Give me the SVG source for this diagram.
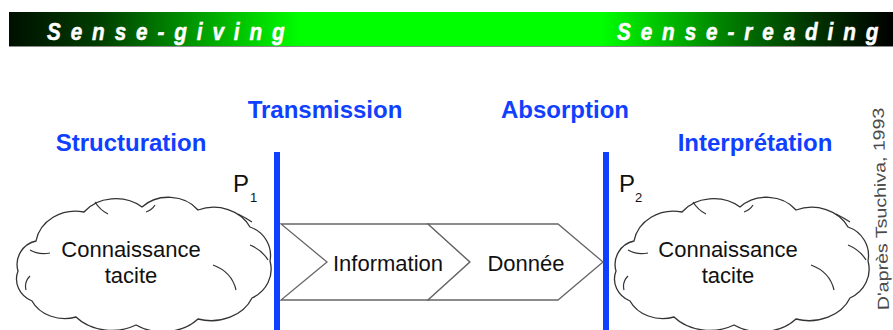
<svg xmlns="http://www.w3.org/2000/svg" width="893" height="330" viewBox="0 0 893 330">
<defs>
<linearGradient id="bar" gradientUnits="userSpaceOnUse" x1="9" y1="0" x2="893" y2="0">
<stop offset="0" stop-color="#001000"/>
<stop offset="0.1" stop-color="#003c00"/>
<stop offset="0.2" stop-color="#009000"/>
<stop offset="0.33" stop-color="#00ff00"/>
<stop offset="0.67" stop-color="#00ff00"/>
<stop offset="0.8" stop-color="#008800"/>
<stop offset="0.9" stop-color="#003a00"/>
<stop offset="1" stop-color="#000000"/>
</linearGradient>
<path id="cloud" d="M 24 40 A 40 36 0 0 1 72 11 A 38 30 0 0 1 130 6 A 36 30 0 0 1 186 9 A 40 34 0 0 1 238 26 A 30 30 0 0 1 258 60 A 34 32 0 0 1 240 97 A 44 36 0 0 1 186 118 A 46 36 0 0 1 124 124 A 46 36 0 0 1 64 116 A 36 30 0 0 1 20 100 A 26 24 0 0 1 6 70 A 24 24 0 0 1 24 40 Z"/>
</defs>
<style>
.hdr{font-family:"Liberation Sans",Arial,sans-serif;font-size:23px;font-weight:bold;font-style:italic;fill:#ffffff;stroke:#ffffff;stroke-width:0.5;letter-spacing:11px}
.blue{font-family:"Liberation Sans",Arial,sans-serif;font-size:24px;font-weight:bold;fill:#1040ff;text-anchor:middle}
.lbl{font-family:"Liberation Sans",Arial,sans-serif;font-size:22px;fill:#111111;text-anchor:middle}
.p{font-family:"Liberation Sans",Arial,sans-serif;font-size:24px;fill:#111111}
.sub{font-family:"Liberation Sans",Arial,sans-serif;font-size:13px;fill:#111111}
.cl{fill:#ffffff;stroke:#333333;stroke-width:1.3}
.inner{fill:none;stroke:#333333;stroke-width:1.2}
.chev{fill:#ffffff;stroke:#666666;stroke-width:1.3}
.axis{stroke:#1040ff;stroke-width:6}
</style>
<rect width="893" height="330" fill="#ffffff"/>
<g id="banner">
<rect x="9" y="12" width="884" height="35" fill="url(#bar)"/>
<line x1="9" y1="46.5" x2="893" y2="46.5" stroke="#8a8a8a" stroke-width="1"/>
<text class="hdr" transform="translate(47,40) scale(0.9,1)">Sense-giving</text>
<text class="hdr" transform="translate(617,40) scale(0.9,1)">Sense-reading</text>
</g>
<g id="headings">
<text class="blue" x="325" y="118">Transmission</text>
<text class="blue" x="565" y="118">Absorption</text>
<text class="blue" x="131" y="151">Structuration</text>
<text class="blue" x="755" y="151">Interprétation</text>
</g>
<g id="connectors">
<line class="axis" x1="277" y1="152" x2="277" y2="330"/>
<line class="axis" x1="606" y1="152" x2="606" y2="330"/>
</g>
<g id="cloud-left">
<use href="#cloud" class="cl" transform="translate(12,201)"/>
<path class="inner" d="M 50 253 Q 38 255 30 250 M 30 276 Q 24 282 26 290 M 238 214 Q 246 218 252 222 M 250 245 Q 262 250 268 260 M 213 265 Q 232 272 236 290 M 95 202 Q 100 210 108 214 M 155 205 Q 152 210 146 212"/>
<text class="lbl" x="131" y="257">Connaissance</text>
<text class="lbl" x="131" y="283">tacite</text>
</g>
<g id="p1">
<text class="p" x="233" y="192">P</text>
<text class="sub" x="250" y="202">1</text>
</g>
<g id="cloud-right">
<use href="#cloud" class="cl" transform="translate(610,201)"/>
<path class="inner" d="M 648 253 Q 636 255 628 250 M 628 276 Q 622 282 624 290 M 836 214 Q 844 218 850 222 M 848 245 Q 860 250 866 260 M 811 265 Q 830 272 834 290 M 693 202 Q 698 210 706 214 M 753 205 Q 750 210 744 212"/>
<text class="lbl" x="728" y="257">Connaissance</text>
<text class="lbl" x="728" y="283">tacite</text>
</g>
<g id="p2">
<text class="p" x="619" y="192">P</text>
<text class="sub" x="635" y="202">2</text>
</g>
<g id="information">
<path class="chev" d="M 281 224 L 428 224 L 470 262 L 428 300 L 281 300 L 327 262 Z"/>
<text class="lbl" x="388" y="271">Information</text>
</g>
<g id="donnee">
<path class="chev" d="M 428 224 L 558 224 L 603 262 L 558 300 L 428 300 L 470 262 Z"/>
<text class="lbl" x="526" y="271">Donnée</text>
</g>
<g id="credit">
<text font-family="'Liberation Sans',Arial,sans-serif" font-size="19.6" fill="#4a4a4a" transform="translate(889,310) rotate(-91.5) scale(1,0.82)">D'après Tsuchiva, 1993</text>
</g>
</svg>
